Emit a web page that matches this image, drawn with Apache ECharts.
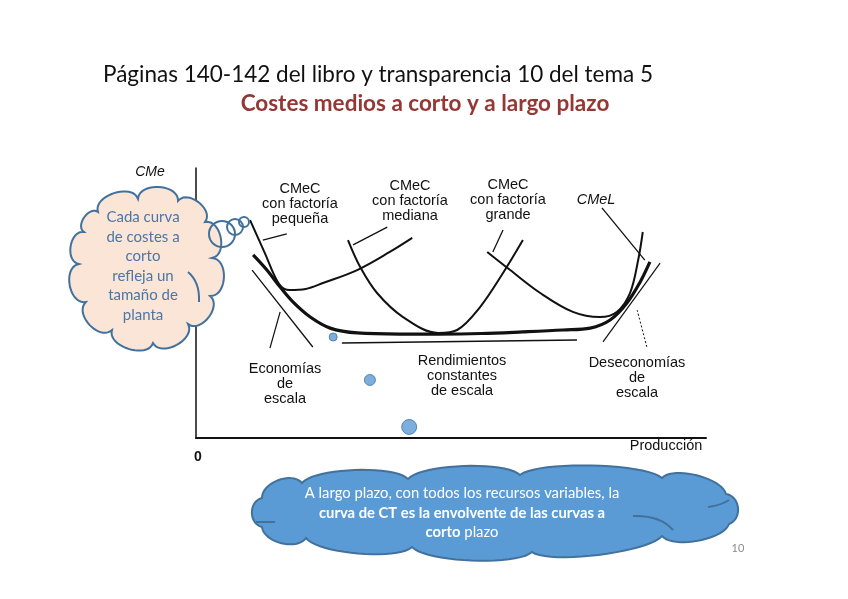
<!DOCTYPE html>
<html><head><meta charset="utf-8">
<script src="https://cdn.jsdelivr.net/npm/echarts@6/dist/echarts.min.js"></script>
<style>html,body{margin:0;padding:0;background:#fff}#c{width:848px;height:599px}</style>
</head><body><div id="c"></div>
<script>
// Curves: [production, average cost]
const cmelCurve = [[11.2,67.8],[13.9,62.2],[16.5,55.9],[19.0,50.4],[22.4,44.8],[26.3,40.7],[31.6,38.9],[40.0,38.5],[47.5,38.5],[56.0,38.7],[64.1,39.3],[72.0,40.0],[77.3,40.7],[81.2,43.7],[84.5,50.0],[87.1,57.8],[89.0,65.2]];
const cmecPequena = [[10.6,80.7],[13.5,68.5],[16.3,57.0],[18.4,54.8],[21.5,55.2],[24.9,57.4],[31.6,62.2],[38.0,68.9],[42.4,74.1]];
const cmecMediana = [[29.8,73.3],[32.2,63.3],[35.5,53.7],[40.6,44.8],[47.5,38.9],[51.2,40.0],[55.7,48.5],[60.2,61.1],[64.1,73.3]];
const cmecGrande = [[57.1,68.9],[61.6,62.2],[67.5,53.7],[73.9,46.7],[79.2,44.8],[82.5,46.7],[85.1,53.7],[86.7,65.9],[87.6,76.3]];
// Annotation strokes (pointer lines)
const pointerPequena = [[13.1,73.3],[17.8,75.6]];
const pointerMediana = [[30.8,71.5],[37.5,78.1]];
const pointerGrande = [[58.2,68.9],[60.2,77.0]];
const pointerCmel = [[79.6,85.2],[88.0,65.9]];
const tangentEconomias = [[11.0,62.2],[22.9,33.7]];
const pointerEconomias = [[16.5,46.7],[14.5,33.3]];
const tangentDeseconomias = [[91.0,64.8],[79.8,35.6]];
const pointerDeseconomias = [[86.5,47.4],[88.4,33.7]];
const bracketConstantes = [[28.6,35.2],[74.7,36.3]];
// Blue dots
const dots = [[26.9,37.4,8],[34.1,21.5,11],[41.8,4.1,15]];

const chart = echarts.init(document.getElementById('c'));
function curve(data, w, dash){
  return {type:'line', data:data, showSymbol:false, smooth:0.35,
    lineStyle:{color:'#111', width:w, type: dash||'solid'}, silent:true, z:3};
}
const series = [
  curve(cmelCurve,3.2), curve(cmecPequena,2), curve(cmecMediana,2), curve(cmecGrande,2),
  curve(pointerPequena,1.3), curve(pointerMediana,1.3), curve(pointerGrande,1.3), curve(pointerCmel,1.3),
  curve(tangentEconomias,1.3), curve(pointerEconomias,1.2), curve(tangentDeseconomias,1.2),
  curve(pointerDeseconomias,1, [2,2]), curve(bracketConstantes,1.6),
  {type:'scatter', data:dots.map(d=>[d[0],d[1]]), symbolSize:(v,p)=>dots[p.dataIndex][2],
   itemStyle:{color:'#5b9bd5', borderColor:'#41719c', borderWidth:1}, z:5, silent:true}
];

const F = 'Liberation Sans, Arial, sans-serif';
const C = 'Lato, Open Sans, sans-serif';
function t(x,y,text,opt){
  return {type:'text', x:x, y:y, z:50, style:Object.assign({text:text, font:'14.5px '+F, fill:'#111', align:'center', verticalAlign:'middle', lineHeight:15}, opt||{})};
}
// cloud outline: bumps between notch points, bulging away from the centre
function cloud(anchors, maxH, frac, along){
  let cx=0, cy=0; anchors.forEach(p=>{cx+=p[0]; cy+=p[1];}); cx/=anchors.length; cy/=anchors.length;
  const pts=[];
  for(let i=0;i<anchors.length;i++){
    const a=anchors[i], b=anchors[(i+1)%anchors.length];
    const dx=b[0]-a[0], dy=b[1]-a[1], L=Math.hypot(dx,dy);
    let nx=dy/L, ny=-dx/L;
    const mx=(a[0]+b[0])/2-cx, my=(a[1]+b[1])/2-cy;
    if(nx*mx+ny*my<0){nx=-nx; ny=-ny;}
    const k=Math.min(frac*L, maxH)/0.75;
    const c1=[a[0]+dx*along+nx*k, a[1]+dy*along+ny*k], c2=[b[0]-dx*along+nx*k, b[1]-dy*along+ny*k];
    for(let s=0;s<20;s++){
      const u=s/20, v=1-u;
      pts.push([v*v*v*a[0]+3*v*v*u*c1[0]+3*v*u*u*c2[0]+u*u*u*b[0], v*v*v*a[1]+3*v*v*u*c1[1]+3*v*u*u*c2[1]+u*u*u*b[1]]);
    }
  }
  return pts;
}
const leftAnchors = [[98,212],[138,199],[178,201],[205,222],[212,258],[210,296],[188,324],[153,343],[112,330],[86,302],[79,264],[84,232]];
const bottomAnchors = [[262,498],[302,483],[408,479],[520,475],[662,478],[726,494],[729,524],[662,536],[532,552],[412,547],[306,538],[262,527]];
const g = [];
g.push({type:'polygon', z:40, shape:{points:cloud(leftAnchors,13,0.34,0)}, style:{fill:'#fbe5d6', stroke:'#41719c', lineWidth:2}});
[[222,234,13],[235,227,8],[244,222,5]].forEach(b=>g.push({type:'circle', z:42, shape:{cx:b[0],cy:b[1],r:b[2]}, style:{fill:'rgba(255,255,255,0)', stroke:'#41719c', lineWidth:2}}));
g.push({type:'bezierCurve', z:41, shape:{x1:188,y1:272,cpx1:200,cpy1:282,x2:199,y2:302}, style:{stroke:'#41719c', lineWidth:2, fill:null}});
g.push({type:'polygon', z:40, shape:{points:cloud(bottomAnchors,11,0.35,0.12)}, style:{fill:'#5b9bd5', stroke:'#41719c', lineWidth:2}});
g.push({type:'bezierCurve', z:41, shape:{x1:633,y1:516,cpx1:660,cpy1:515,x2:673,y2:530}, style:{stroke:'#41719c', lineWidth:2, fill:null}});
g.push({type:'bezierCurve', z:41, shape:{x1:708,y1:507,cpx1:722,cpy1:505,x2:729,y2:500}, style:{stroke:'#41719c', lineWidth:2, fill:null}});
g.push({type:'bezierCurve', z:41, shape:{x1:256,y1:522,cpx1:266,cpy1:522,x2:275,y2:522}, style:{stroke:'#41719c', lineWidth:2, fill:null}});

g.push(t(143,266,'Cada curva\nde costes a\ncorto\nrefleja un\ntamaño de\nplanta',{font:'15px '+C, fill:'#4a76a8', lineHeight:19.5}));
g.push({type:'text', x:462, y:513, z:50, style:{text:'A largo plazo, con todos los recursos variables, la\n{b|curva de CT es la envolvente de las curvas a}\n{b|corto} plazo', font:'14.8px '+C, fill:'#fff', align:'center', verticalAlign:'middle', lineHeight:19.5, rich:{b:{font:'bold 14.8px '+C, fill:'#fff'}}}});

g.push(t(103,75,'Páginas 140-142 del libro y transparencia 10 del tema 5',{font:'22.5px '+C, align:'left'}));
g.push(t(425,104,'Costes medios a corto y a largo plazo',{font:'bold 22.5px '+C, fill:'#953735'}));
g.push(t(738,548,'10',{font:'11px '+C, fill:'#8c8c8c'}));

g.push(t(150,172,'CMe',{font:'italic 14px '+F}));
g.push(t(198,457,'0',{font:'bold 14px '+F}));
g.push(t(666,446,'Producción'));
g.push(t(300,204,'CMeC\ncon factoría\npequeña'));
g.push(t(410,201,'CMeC\ncon factoría\nmediana'));
g.push(t(508,200,'CMeC\ncon factoría\ngrande'));
g.push(t(596,200,'CMeL',{font:'italic 14.5px '+F}));
g.push(t(285,384,'Economías\nde\nescala'));
g.push(t(462,376,'Rendimientos\nconstantes\nde escala'));
g.push(t(637,378,'Deseconomías\nde\nescala'));

chart.setOption({
  animation:false,
  grid:{left:196, top:168, width:510, height:270, containLabel:false},
  xAxis:{type:'value', min:0, max:100, axisLine:{show:true, lineStyle:{color:'#111', width:2}}, axisTick:{show:false}, axisLabel:{show:false}, splitLine:{show:false}},
  yAxis:{type:'value', min:0, max:100, axisLine:{show:true, lineStyle:{color:'#111', width:1.5}}, axisTick:{show:false}, axisLabel:{show:false}, splitLine:{show:false}},
  series:series,
  graphic:g
});
</script></body></html>
